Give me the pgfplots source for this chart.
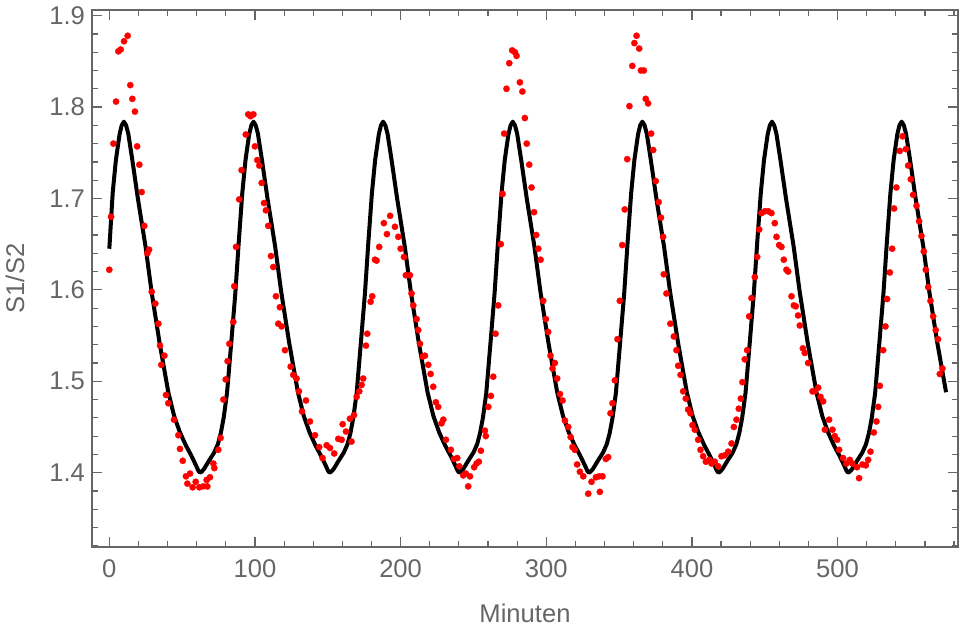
\documentclass[border=0pt]{standalone}
\usepackage{pgfplots}
\pgfplotsset{compat=1.18}
\usepackage{fontspec}
\setmainfont{Liberation Sans}
\definecolor{fg}{RGB}{102,102,102}
\begin{document}
\begin{tikzpicture}
\begin{axis}[name=ax, scale only axis, width=433pt, height=268.5pt,
 xmin=-11.9, xmax=582.7, ymin=1.3187, ymax=1.9062,
 axis line style={fg, line width=0.7pt},
 tick style={fg, line width=0.6pt},
 tick align=inside,
 major tick length=5.2pt, minor tick length=3.2pt,
 xtick={0,100,200,300,400,500},
 xticklabels={0,100,200,300,400,500},
 minor xtick={20,40,60,80,120,140,160,180,220,240,260,280,320,340,360,380,420,440,460,480,520,540,560,580},
 ytick={1.4,1.5,1.6,1.7,1.8,1.9},
 yticklabels={1.4,1.5,1.6,1.7,1.8,1.9},
 minor ytick={1.32,1.34,1.36,1.38,1.42,1.44,1.46,1.48,1.52,1.54,1.56,1.58,1.62,1.64,1.66,1.68,1.72,1.74,1.76,1.78,1.82,1.84,1.86,1.88},
 tick label style={font=\fontsize{12.8}{15}\selectfont, text=fg},
 xticklabel style={anchor=base, yshift=-15.5pt},
 yticklabel style={anchor=east},
 xlabel={Minuten}, ylabel={S1/S2},
 label style={font=\fontsize{12.8}{15}\selectfont, text=fg},
 xlabel style={at={(axis description cs:0.5,-0.1415)}, anchor=base},
 ylabel style={at={(axis description cs:-0.089,0.5)}, anchor=center, rotate=0},
]
\addplot[red, only marks, mark=*, mark size=1.6pt, mark options={fill=red, draw=red, line width=0.1pt}] coordinates {
(0,1.622) (1.2,1.680) (2.8,1.760) (4.6,1.806) (6.2,1.861) (7.8,1.863) (10.1,1.872) (12.6,1.878)
(14.4,1.824) (15.8,1.809) (17.6,1.795) (19.1,1.757) (20.6,1.737) (22.2,1.707) (24.0,1.670) (26.1,1.640)
(27.3,1.644) (29.1,1.598) (31.6,1.585) (33.7,1.563) (34.8,1.539) (35.7,1.518) (37.8,1.528) (38.9,1.485)
(40.5,1.476) (44.4,1.458) (47.4,1.441) (48.5,1.426) (50.4,1.413) (52.6,1.396) (53.6,1.388) (55.4,1.399)
(57.2,1.384) (59.3,1.390) (61.8,1.384) (64.5,1.385) (66.8,1.392) (67.3,1.385) (69.1,1.395) (71.4,1.410)
(72.1,1.405) (74.8,1.425) (76.4,1.438) (78.3,1.480) (79.9,1.502) (81.2,1.522) (82.4,1.541) (85.1,1.565)
(85.8,1.604) (87.0,1.647) (89.2,1.699) (90.8,1.731) (93.7,1.770) (95.4,1.792) (97.0,1.790) (98.9,1.792)
(100.0,1.757) (101.6,1.742) (103.0,1.736) (104.6,1.717) (106.2,1.695) (107.5,1.687) (109.1,1.670) (111.0,1.637)
(112.6,1.625) (114.4,1.593) (116.0,1.563) (117.1,1.581) (118.3,1.560) (120.6,1.534) (124.5,1.516) (126.3,1.507)
(128.6,1.503) (130.2,1.489) (132.3,1.467) (135.0,1.479) (137.7,1.456) (141.2,1.441) (144.1,1.428) (146.4,1.416)
(149.2,1.430) (151.5,1.427) (154.4,1.421) (157.2,1.437) (159.5,1.436) (160.2,1.453) (162.5,1.445) (165.2,1.459)
(166.3,1.434) (168.0,1.463) (169.8,1.483) (171.6,1.489) (173.2,1.496) (174.3,1.503) (176.2,1.539) (177.1,1.552)
(179.4,1.587) (180.5,1.593) (182.4,1.633) (183.5,1.632) (185.3,1.647) (188.5,1.673) (190.6,1.661) (192.8,1.681)
(196.1,1.669) (198.4,1.658) (200.0,1.645) (202.3,1.636) (203.6,1.616) (206.4,1.616) (207.5,1.596) (208.7,1.583)
(211.0,1.568) (212.1,1.556) (213.3,1.541) (215.1,1.527) (216.7,1.528) (219.0,1.518) (220.6,1.508) (222.4,1.494)
(224.2,1.477) (225.8,1.472) (228.1,1.454) (229.3,1.458) (231.1,1.436) (234.5,1.425) (236.6,1.415) (238.9,1.416)
(240.3,1.407) (243.0,1.397) (244.8,1.399) (246.4,1.385) (247.6,1.396) (250.5,1.406) (252.1,1.410) (253.7,1.412)
(255.1,1.424) (257.9,1.446) (258.5,1.440) (260.2,1.472) (262.0,1.484) (263.6,1.505) (265.2,1.552) (267.0,1.583)
(268.8,1.650) (270.0,1.705) (271.1,1.771) (272.7,1.820) (274.6,1.848) (276.6,1.862) (278.5,1.860) (279.6,1.856)
(281.9,1.827) (283.6,1.817) (285.3,1.788) (286.6,1.760) (288.3,1.737) (289.9,1.712) (291.6,1.685) (293.1,1.660)
(294.5,1.645) (296.1,1.633) (297.9,1.588) (299.7,1.568) (301.3,1.554) (302.9,1.528) (304.3,1.514) (305.9,1.520)
(307.5,1.503) (309.4,1.486) (311.2,1.479) (312.8,1.457) (315.1,1.450) (316.7,1.439) (318.0,1.428) (319.6,1.425)
(321.2,1.409) (323.1,1.401) (325.4,1.396) (328.8,1.377) (331.1,1.390) (334.1,1.395) (336.3,1.396) (336.8,1.379)
(338.6,1.396) (340.9,1.415) (342.5,1.417) (344.1,1.465) (345.5,1.476) (347.1,1.501) (348.9,1.546) (350.5,1.588)
(352.2,1.649) (353.9,1.688) (355.6,1.743) (357.1,1.801) (359.1,1.845) (360.5,1.870) (362.0,1.878) (363.8,1.864)
(365.0,1.840) (367.0,1.840) (368.3,1.809) (369.9,1.804) (372.0,1.771) (373.4,1.753) (375.2,1.719) (377.2,1.696)
(378.8,1.679) (380.2,1.658) (380.7,1.617) (382.5,1.596) (385.2,1.563) (387.6,1.549) (389.4,1.534) (390.6,1.517)
(392.2,1.507) (394.0,1.489) (395.8,1.481) (397.4,1.469) (399.0,1.465) (400.4,1.452) (402.0,1.447) (404.3,1.436)
(405.9,1.425) (407.7,1.418) (409.6,1.412) (411.9,1.414) (413.5,1.410) (415.7,1.412) (418.0,1.407) (420.3,1.418)
(422.6,1.419) (424.9,1.423) (427.2,1.432) (428.8,1.450) (430.6,1.458) (432.2,1.470) (433.6,1.481) (434.7,1.499)
(436.3,1.524) (437.9,1.534) (439.3,1.571) (440.9,1.591) (443.2,1.614) (444.8,1.636) (446.2,1.666) (447.8,1.684)
(450.1,1.686) (452.4,1.686) (454.6,1.684) (456.9,1.673) (458.1,1.658) (459.9,1.649) (461.5,1.647) (463.1,1.633)
(464.9,1.622) (466.1,1.620) (468.4,1.593) (470.0,1.583) (471.3,1.582) (472.9,1.572) (474.1,1.561) (476.2,1.536)
(477.5,1.531) (479.8,1.520) (482.8,1.489) (484.4,1.489) (486.7,1.493) (488.3,1.483) (490.1,1.478) (491.3,1.447)
(494.2,1.458) (496.5,1.447) (498.1,1.440) (499.7,1.436) (501.1,1.425) (503.8,1.416) (506.1,1.410) (508.4,1.414)
(510.2,1.410) (513.4,1.406) (514.8,1.394) (517.1,1.409) (519.4,1.408) (521.0,1.414) (522.6,1.423) (524.9,1.444)
(526.7,1.456) (527.9,1.472) (529.0,1.495) (531.3,1.534) (532.9,1.560) (534.0,1.590) (535.9,1.619) (537.5,1.645)
(538.8,1.689) (540.4,1.712) (542.7,1.752) (544.6,1.768) (546.9,1.754) (548.5,1.736) (550.3,1.721) (551.9,1.704)
(554.2,1.692) (556.0,1.675) (557.6,1.659) (559.2,1.642) (560.6,1.622) (562.2,1.603) (563.8,1.588) (565.6,1.571)
(567.4,1.556) (569.0,1.546) (570.2,1.508) (572.0,1.514)
};
\addplot[black, line width=2pt, line join=round, line cap=butt] coordinates {
(0,1.645) (2.3,1.706) (4.5,1.742) (7,1.770) (8.5,1.780)
(10,1.784) (11.5,1.780) (13,1.771) (15.8,1.742) (19.6,1.700) (24.9,1.647) (29,1.598) (34.5,1.542) (40.5,1.488) (44.5,1.462) (48.5,1.444) (52.5,1.430) (56.5,1.418) (59.5,1.408) (61.2,1.402) (62.2,1.400) (63.3,1.401) (65,1.404) (68.4,1.413) (72,1.422) (74.5,1.431) (76.5,1.443) (78.5,1.460) (80.8,1.487) (83.7,1.542) (86.5,1.596) (88.8,1.651) (91.3,1.706) (93.5,1.742) (96,1.770) (97.5,1.780)
(99,1.784) (100.5,1.780) (102,1.771) (104.8,1.742) (108.6,1.700) (113.9,1.647) (118,1.598) (123.5,1.542) (129.5,1.488) (133.5,1.462) (137.5,1.444) (141.5,1.430) (145.5,1.418) (148.5,1.408) (150.2,1.402) (151.2,1.400) (152.3,1.401) (154,1.404) (157.4,1.413) (161,1.422) (163.5,1.431) (165.5,1.443) (167.5,1.460) (169.8,1.487) (172.7,1.542) (175.5,1.596) (177.8,1.651) (180.3,1.706) (182.5,1.742) (185,1.770) (186.5,1.780)
(188,1.784) (189.5,1.780) (191,1.771) (193.8,1.742) (197.6,1.700) (202.9,1.647) (207,1.598) (212.5,1.542) (218.5,1.488) (222.5,1.462) (226.5,1.444) (230.5,1.430) (234.5,1.418) (237.5,1.408) (239.2,1.402) (240.2,1.400) (241.3,1.401) (243,1.404) (246.4,1.413) (250,1.422) (252.5,1.431) (254.5,1.443) (256.5,1.460) (258.8,1.487) (261.7,1.542) (264.5,1.596) (266.8,1.651) (269.3,1.706) (271.5,1.742) (274,1.770) (275.5,1.780)
(277,1.784) (278.5,1.780) (280,1.771) (282.8,1.742) (286.6,1.700) (291.9,1.647) (296,1.598) (301.5,1.542) (307.5,1.488) (311.5,1.462) (315.5,1.444) (319.5,1.430) (323.5,1.418) (326.5,1.408) (328.2,1.402) (329.2,1.400) (330.3,1.401) (332,1.404) (335.4,1.413) (339,1.422) (341.5,1.431) (343.5,1.443) (345.5,1.460) (347.8,1.487) (350.7,1.542) (353.5,1.596) (355.8,1.651) (358.3,1.706) (360.5,1.742) (363,1.770) (364.5,1.780)
(366,1.784) (367.5,1.780) (369,1.771) (371.8,1.742) (375.6,1.700) (380.9,1.647) (385,1.598) (390.5,1.542) (396.5,1.488) (400.5,1.462) (404.5,1.444) (408.5,1.430) (412.5,1.418) (415.5,1.408) (417.2,1.402) (418.2,1.400) (419.3,1.401) (421,1.404) (424.4,1.413) (428,1.422) (430.5,1.431) (432.5,1.443) (434.5,1.460) (436.8,1.487) (439.7,1.542) (442.5,1.596) (444.8,1.651) (447.3,1.706) (449.5,1.742) (452,1.770) (453.5,1.780)
(455,1.784) (456.5,1.780) (458,1.771) (460.8,1.742) (464.6,1.700) (469.9,1.647) (474,1.598) (479.5,1.542) (485.5,1.488) (489.5,1.462) (493.5,1.444) (497.5,1.430) (501.5,1.418) (504.5,1.408) (506.2,1.402) (507.2,1.400) (508.3,1.401) (510,1.404) (513.4,1.413) (517,1.422) (519.5,1.431) (521.5,1.443) (523.5,1.460) (525.8,1.487) (528.7,1.542) (531.5,1.596) (533.8,1.651) (536.3,1.706) (538.5,1.742) (541,1.770) (542.5,1.780)
(544,1.784) (545.5,1.780) (547,1.771) (549.8,1.742) (553.6,1.700) (558.9,1.647) (563,1.598) (568.5,1.542) (574.5,1.488)
};
\end{axis}
\pgfresetboundingbox
\path[use as bounding box] ([xshift=-46pt,yshift=-41pt]ax.south west) rectangle ([xshift=1pt,yshift=5pt]ax.north east);
\end{tikzpicture}
\end{document}
